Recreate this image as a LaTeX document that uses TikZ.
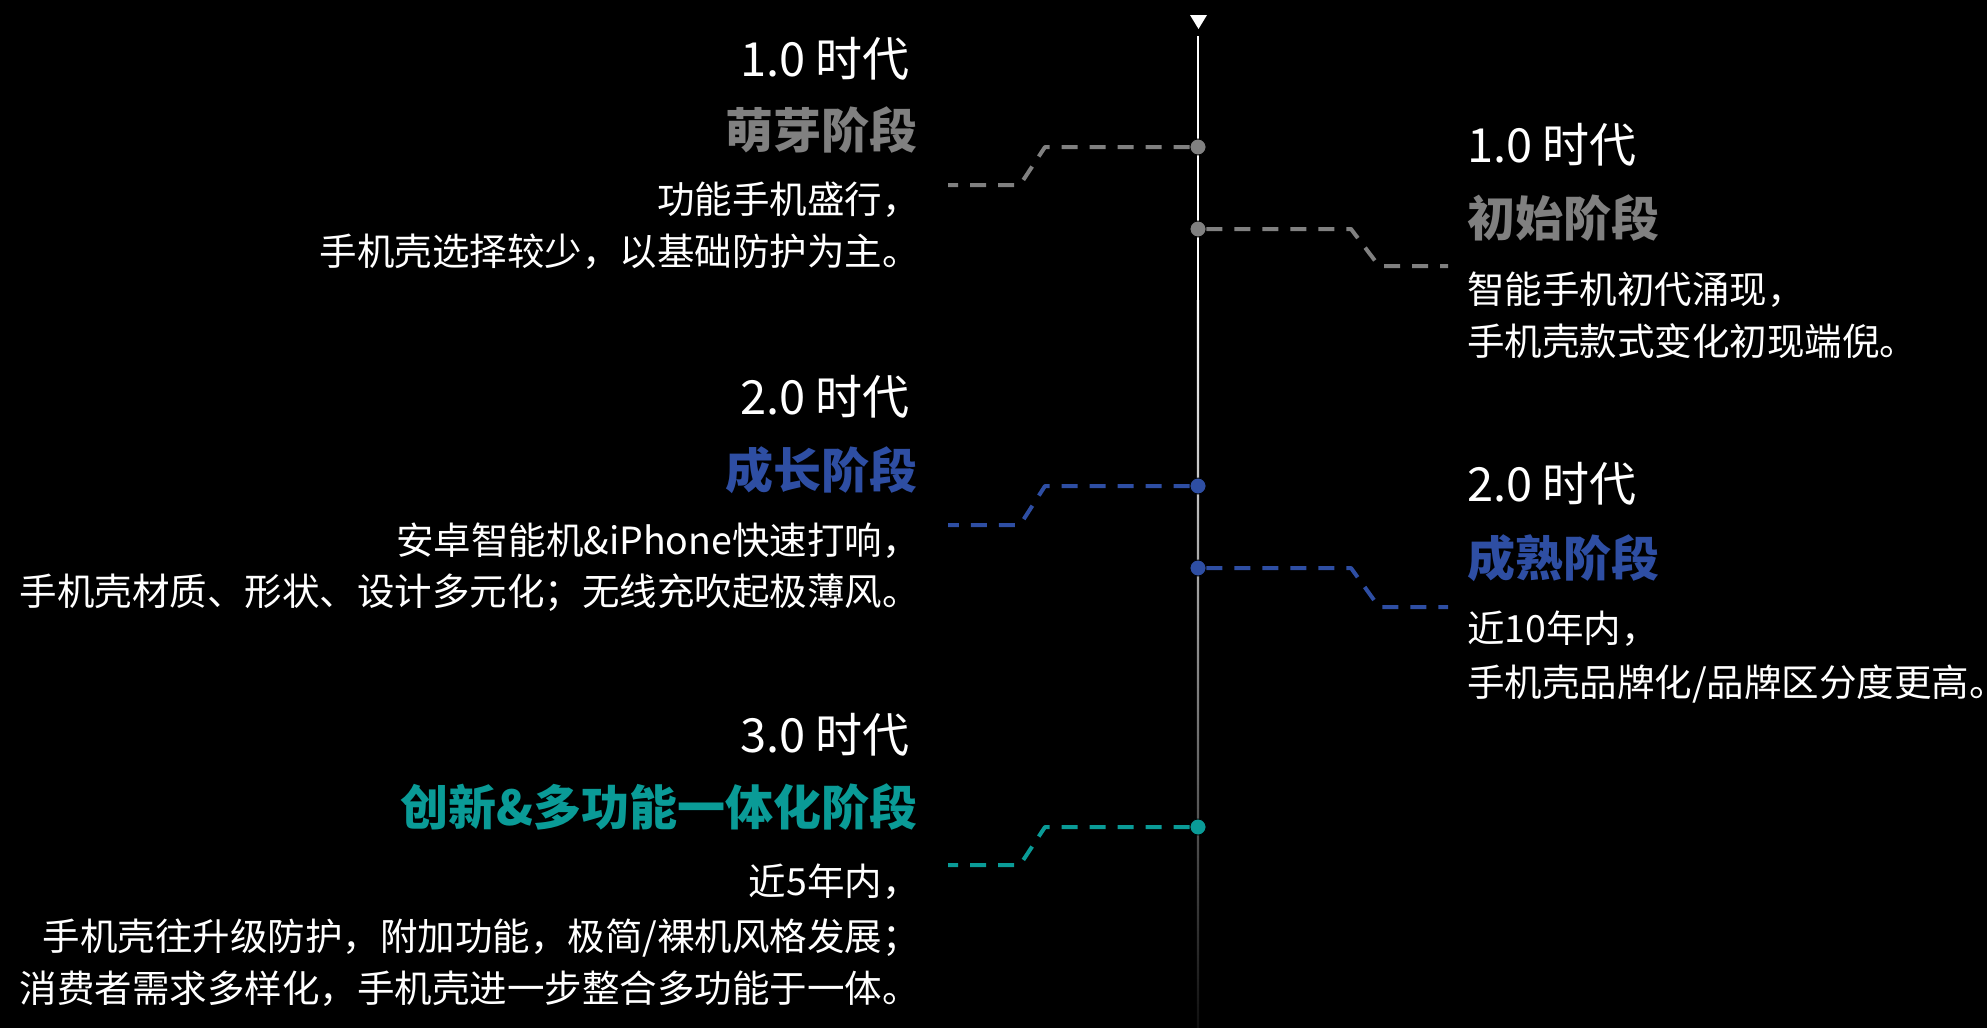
\documentclass[tikz,border=0pt]{standalone}
\usepackage{fontspec}
\setmainfont{Noto Sans CJK SC}
\newfontfamily\cjk{Noto Sans CJK SC}
\definecolor{stgray}{HTML}{808080}
\definecolor{stblue}{HTML}{2E4EA3}
\definecolor{stteal}{HTML}{0A9B97}
\tikzset{
  eratxt/.style={font=\cjk\fontsize{47}{50}\selectfont, text=white, inner sep=0pt},
  stagetxt/.style={font=\cjk\bfseries\fontsize{48}{52}\selectfont, inner sep=0pt},
  bodytxt/.style={font=\cjk\fontsize{37.5}{42}\selectfont, text=white, inner sep=0pt},
  lft/.style={anchor=base east},
  rgt/.style={anchor=base west},
  dotnode/.style={circle, minimum size=16pt, inner sep=0pt, draw=black, line width=0.8pt},
  conn/.style={line width=4pt, dash pattern=on 16pt off 12pt, line join=round},
}
\begin{document}
\begin{tikzpicture}[x=1pt,y=-1pt]
\fill[black] (0,0) rectangle (1987,1028);
\useasboundingbox (0,0) rectangle (1987,1028);

% timeline
\coordinate (ttop) at (1198,36);
\coordinate (tbot) at (1198,1028);
\fill[white] (1196.8,36) rectangle (1199.2,300);
\shade[top color=white, bottom color=black!94] (1196.8,300) rectangle (1199.2,1028);
\fill[white] (1190,15) -- (1207,15) -- (1198.5,29) -- cycle;

% dots
\node[dotnode, fill=stgray] (d1) at (1198,147) {};
\node[dotnode, fill=stgray] (d2) at (1198,229) {};
\node[dotnode, fill=stblue] (d3) at (1198,486) {};
\node[dotnode, fill=stblue] (d4) at (1198,568) {};
\node[dotnode, fill=stteal] (d5) at (1198,827) {};

% connector ends
\coordinate (c1) at (948,185);
\coordinate (c2) at (1448,266);
\coordinate (c3) at (948,525);
\coordinate (c4) at (1448,607);
\coordinate (c5) at (948,865);

\draw[conn, stgray] (d1.west) -- (1045,147) -- (1020,185) -- (c1);
\draw[conn, stgray] (d2.east) -- (1351,229) -- (1379,266) -- (c2);
\draw[conn, stblue] (d3.west) -- (1045,486) -- (1020,525) -- (c3);
\draw[conn, stblue] (d4.east) -- (1351,568) -- (1379,607) -- (c4);
\draw[conn, stteal] (d5.west) -- (1045,827) -- (1020,865) -- (c5);

% left group 1
\node[eratxt, lft] (e1) at (910,76) {1.0 时代};
\node[stagetxt, lft, text=stgray] (s1) at (918,148) {萌芽阶段};
\node[bodytxt, lft] (b1a) at (920,213) {功能手机盛行，};
\node[bodytxt, lft] (b1b) at (920,265) {手机壳选择较少，以基础防护为主。};

% right group 1
\node[eratxt, rgt] (e2) at (1467,162) {1.0 时代};
\node[stagetxt, rgt, text=stgray] (s2) at (1467,236) {初始阶段};
\node[bodytxt, rgt] (b2a) at (1467,303) {智能手机初代涌现，};
\node[bodytxt, rgt] (b2b) at (1467,355) {手机壳款式变化初现端倪。};

% left group 2
\node[eratxt, lft] (e3) at (910,414) {2.0 时代};
\node[stagetxt, lft, text=stblue] (s3) at (918,488) {成长阶段};
\node[bodytxt, lft] (b3a) at (920,554) {安卓智能机\&iPhone快速打响，};
\node[bodytxt, lft] (b3b) at (920,605) {手机壳材质、形状、设计多元化；无线充吹起极薄风。};

% right group 2
\node[eratxt, rgt] (e4) at (1467,501) {2.0 时代};
\node[stagetxt, rgt, text=stblue] (s4) at (1467,576) {成熟阶段};
\node[bodytxt, rgt] (b4a) at (1467,642) {近10年内，};
\node[bodytxt, rgt] (b4b) at (1467,696) {手机壳品牌化/品牌区分度更高。\kern-0.55em};

% left group 3
\node[eratxt, lft] (e5) at (910,752) {3.0 时代};
\node[stagetxt, lft, text=stteal] (s5) at (918,825) {创新\&多功能一体化阶段};
\node[bodytxt, lft] (b5a) at (920,895) {近5年内，};
\node[bodytxt, lft] (b5b) at (920,950) {手机壳往升级防护，附加功能，极简/裸机风格发展；};
\node[bodytxt, lft] (b5c) at (920,1002) {消费者需求多样化，手机壳进一步整合多功能于一体。};
\end{tikzpicture}
\end{document}
